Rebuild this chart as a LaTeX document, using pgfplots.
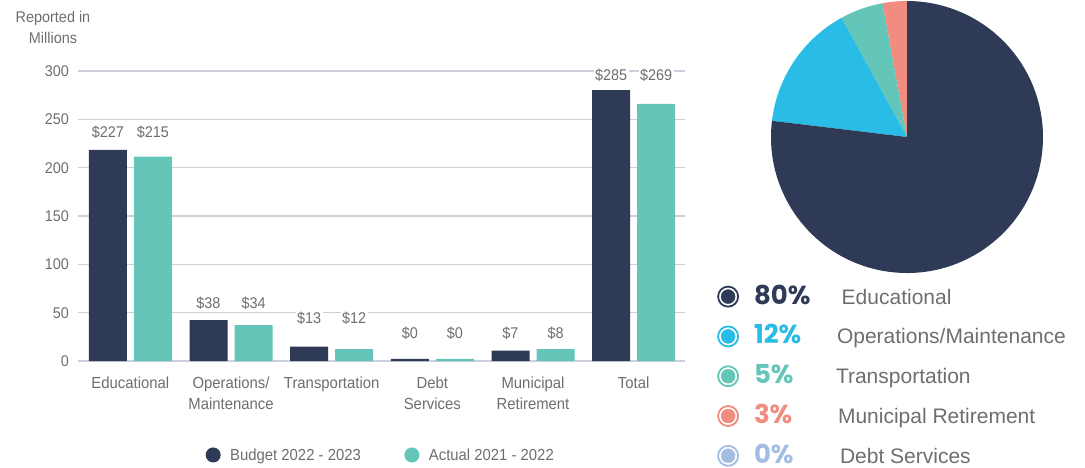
\documentclass[border=0pt]{standalone}
\usepackage{pgfplots}
\usepackage{pgfplotstable}
\pgfplotsset{compat=1.18}
\usepackage{fontspec}
\setmainfont{Liberation Sans}[FakeStretch=0.93]
\newfontfamily\legfont{Liberation Sans}
\newfontfamily\pctfont{Poppins}
\definecolor{navy}{HTML}{2F3A56}
\definecolor{tealc}{HTML}{63C6B8}
\definecolor{skyc}{HTML}{29BCE6}
\definecolor{salmonc}{HTML}{F28C7E}
\definecolor{paleblue}{HTML}{A4BDE2}
\definecolor{txt}{HTML}{6E6E6E}
\definecolor{gridc}{HTML}{CDD0DB}

% bar heights as drawn (millions)
\pgfplotstableread{
x budget actual
0 218.3 211.3
1 42.4 37.2
2 14.8 12.4
3 2.2 2.2
4 10.7 12.4
5 280.3 265.9
}\bars
% value labels: position (y) and printed value
\pgfplotstableread{
xb xa yl lb la
-0.2237 0.2237 237 227 215
0.7763 1.2237 60 38 34
1.7763 2.2237 44.5 13 12
2.7763 3.2237 29 0 0
3.7763 4.2237 29 7 8
4.7763 5.2237 296 285 269
}\labels
% pie shares (percent of circle, as drawn)
\def\pMuni{2.9}
\def\pTrans{5.1}
\def\pOps{15.1}
\pgfmathsetmacro\aA{90}
\pgfmathsetmacro\aB{\aA+3.6*\pMuni}
\pgfmathsetmacro\aC{\aB+3.6*\pTrans}
\pgfmathsetmacro\aD{\aC+3.6*\pOps}
\pgfmathsetmacro\aE{450}

\begin{document}
\begin{tikzpicture}
\useasboundingbox (0,0) rectangle (1085bp,-468bp);
\node[anchor=north, inner sep=0pt, align=center, text=txt,
  font=\fontsize{15.5bp}{21bp}\selectfont] at (53bp,-11.5bp) {Reported in\\Millions};
\begin{axis}[
  at={(78bp,-361bp)}, anchor=south west,
  scale only axis, width=607bp, height=290bp,
  xmin=-0.52, xmax=5.51, ymin=0, ymax=300,
  axis line style={draw=none},
  major tick length=0pt,
  ymajorgrids, grid style={gridc, line width=1.2bp},
  ytick={0,50,...,300},
  xtick={0,...,5},
  xticklabels={Educational,{Operations/\\Maintenance},Transportation,{Debt\\Services},{Municipal\\Retirement},Total},
  /pgf/number format/assume math mode=true,
  yticklabel style={font=\fontsize{15.5bp}{18bp}\selectfont, text=txt, inner sep=0pt, xshift=-9bp},
  xticklabel style={font=\fontsize{16bp}{21.6bp}\selectfont, text=txt, align=center, anchor=north, inner sep=0pt, yshift=-15.5bp},
  clip=false,
  legend style={draw=none, fill=none, inner sep=0pt, at={(0.21,-0.324)}, anchor=west,
    font=\fontsize{16bp}{18bp}\selectfont, text=txt,
    nodes={inner sep=0pt, text height=14bp, text depth=3bp},
    /tikz/every odd column/.append style={column sep=9.5bp},
    /tikz/every even column/.append style={column sep=43.5bp}},
  legend columns=2, legend cell align=left,
]
\addplot[ybar, bar width=38bp, bar shift=-22.5bp, fill=navy, draw=none,
  legend image code/.code={\fill[navy] (0,0) circle (4.3bp); \draw[navy, line width=1.5bp] (0,0) circle (6.75bp);}]
  table[x=x, y=budget] {\bars};
\addlegendentry{Budget 2022 - 2023}
\addplot[ybar, bar width=38bp, bar shift=22.5bp, fill=tealc, draw=none,
  legend image code/.code={\fill[tealc] (0,0) circle (4.3bp); \draw[tealc, line width=1.5bp] (0,0) circle (6.75bp);}]
  table[x=x, y=actual] {\bars};
\addlegendentry{Actual 2021 - 2022}
\addplot[draw=none, mark=none, forget plot, point meta=explicit,
  nodes near coords={\$\pgfmathprintnumber{\pgfplotspointmeta}},
  nodes near coords style={anchor=center, text=txt, font=\fontsize{15.5bp}{18bp}\selectfont, fill=white, inner sep=1.5bp}]
  table[x=xb, y=yl, meta=lb] {\labels};
\addplot[draw=none, mark=none, forget plot, point meta=explicit,
  nodes near coords={\$\pgfmathprintnumber{\pgfplotspointmeta}},
  nodes near coords style={anchor=center, text=txt, font=\fontsize{15.5bp}{18bp}\selectfont, fill=white, inner sep=1.5bp}]
  table[x=xa, y=yl, meta=la] {\labels};
\end{axis}

\begin{axis}[
  at={(907bp,-137bp)}, anchor=center,
  scale only axis, width=272bp, height=272bp,
  xmin=-1, xmax=1, ymin=-1, ymax=1, hide axis, clip=false,
  legend style={draw=none, fill=none, inner sep=0pt, at={(-0.1985,-0.046)}, anchor=north west,
    row sep=18bp,
    nodes={inner sep=0pt, text height=18bp, text depth=3bp},
    /tikz/every odd column/.append style={column sep=15bp}},
  legend cell align=left,
]
\fill[salmonc] (axis cs:0,0) -- ++(\aA:136bp) arc[start angle=\aA, end angle=\aB, radius=136bp] -- cycle;
\fill[tealc] (axis cs:0,0) -- ++(\aB:136bp) arc[start angle=\aB, end angle=\aC, radius=136bp] -- cycle;
\fill[skyc] (axis cs:0,0) -- ++(\aC:136bp) arc[start angle=\aC, end angle=\aD, radius=136bp] -- cycle;
\fill[navy] (axis cs:0,0) -- ++(\aD:136bp) arc[start angle=\aD, end angle=\aE, radius=136bp] -- cycle;
\addlegendimage{legend image code/.code={\fill[navy] (0,0) circle (7bp); \draw[navy, line width=1.8bp] (0,0) circle (10bp);}}
\addlegendentry{\makebox[87.7bp][l]{\pctfont\bfseries\fontsize{26bp}{28bp}\selectfont\color{navy}80\%}{\legfont\fontsize{21bp}{24bp}\selectfont\color{txt}Educational}}
\addlegendimage{legend image code/.code={\fill[skyc] (0,0) circle (7bp); \draw[skyc, line width=1.8bp] (0,0) circle (10bp);}}
\addlegendentry{\makebox[83bp][l]{\pctfont\bfseries\fontsize{26bp}{28bp}\selectfont\color{skyc}12\%}{\legfont\fontsize{21bp}{24bp}\selectfont\color{txt}Operations/Maintenance}}
\addlegendimage{legend image code/.code={\fill[tealc] (0,0) circle (7bp); \draw[tealc, line width=1.8bp] (0,0) circle (10bp);}}
\addlegendentry{\makebox[82bp][l]{\pctfont\bfseries\fontsize{26bp}{28bp}\selectfont\color{tealc}5\%}{\legfont\fontsize{21bp}{24bp}\selectfont\color{txt}Transportation}}
\addlegendimage{legend image code/.code={\fill[salmonc] (0,0) circle (7bp); \draw[salmonc, line width=1.8bp] (0,0) circle (10bp);}}
\addlegendentry{\makebox[84bp][l]{\pctfont\bfseries\fontsize{26bp}{28bp}\selectfont\color{salmonc}3\%}{\legfont\fontsize{21bp}{24bp}\selectfont\color{txt}Municipal Retirement}}
\addlegendimage{legend image code/.code={\fill[paleblue] (0,0) circle (7bp); \draw[paleblue, line width=1.8bp] (0,0) circle (10bp);}}
\addlegendentry{\makebox[86bp][l]{\pctfont\bfseries\fontsize{26bp}{28bp}\selectfont\color{paleblue}0\%}{\legfont\fontsize{21bp}{24bp}\selectfont\color{txt}Debt Services}}
\end{axis}
\end{tikzpicture}
\end{document}
